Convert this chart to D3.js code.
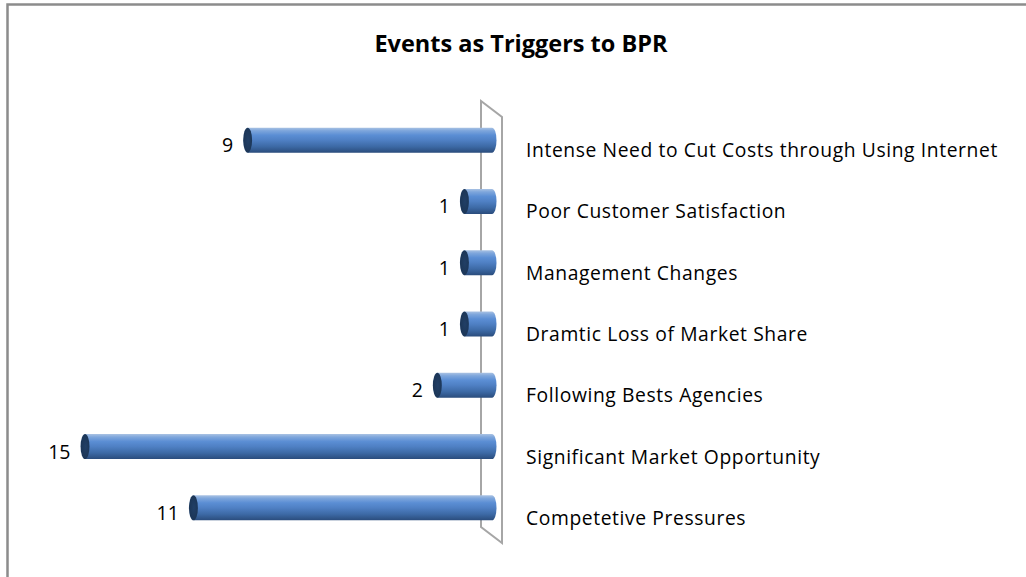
<!DOCTYPE html>
<html>
<head>
<meta charset="utf-8">
<script src="https://cdn.jsdelivr.net/npm/d3@7"></script>
<style>
  body { margin: 0; background: #fff; }
  svg { display: block; }
  .cat-label { font-family: "Open Sans", sans-serif; font-size: 19.3px; letter-spacing: 0.6px; fill: #000; }
  .val-label { font-family: "Open Sans", sans-serif; font-size: 19.5px; fill: #000; }
  .title { font-family: "Open Sans", sans-serif; font-size: 23.5px; font-weight: bold; fill: #000; }
</style>
</head>
<body>
<div id="wrapper"></div>
<script>
// data, top to bottom
const categories = [
  "Intense Need to Cut Costs through Using Internet",
  "Poor Customer Satisfaction",
  "Management Changes",
  "Dramtic Loss of Market Share",
  "Following Bests Agencies",
  "Significant Market Opportunity",
  "Competetive Pressures"
]
const counts = [9, 1, 1, 1, 2, 15, 11]
const chartTitle = "Events as Triggers to BPR"

function drawChart() {
  const width = 1026
  const height = 577

  const dimensions = {
    zeroX: 487,
    top: 109.5,
    bottom: 538.5,
    barHeight: 25,
    capRx: 4.5,
    depthX: 21,
    depthY: 16,
  }

  const svg = d3.select("#wrapper")
    .append("svg")
      .attr("width", width)
      .attr("height", height)

  // outer frame (only top and left show in the picture)
  svg.append("rect")
    .attr("x", 7.5)
    .attr("y", 4.5)
    .attr("width", width + 20)
    .attr("height", height + 20)
    .attr("fill", "none")
    .attr("stroke", "#8c8c8c")
    .attr("stroke-width", 2.5)

  const xScale = d3.scaleLinear()
    .domain([0, 16])
    .range([dimensions.zeroX, dimensions.zeroX - 16 * 27.1])

  const yScale = d3.scalePoint()
    .domain(categories)
    .range([dimensions.top, dimensions.bottom])
    .padding(0.5)

  // gradients
  const defs = svg.append("defs")
  const grad = defs.append("linearGradient")
    .attr("id", "barGrad")
    .attr("x1", 0).attr("y1", 0).attr("x2", 0).attr("y2", 1)
  const stops = [
    [0, "#a9c2e3"],
    [0.12, "#7ea6dc"],
    [0.3, "#5b8ed4"],
    [0.5, "#4f80c4"],
    [0.75, "#3d6aa6"],
    [1, "#2a4c7c"],
  ]
  stops.forEach(s => grad.append("stop").attr("offset", s[0]).attr("stop-color", s[1]))

  const capGrad = defs.append("radialGradient")
    .attr("id", "capGrad")
    .attr("cx", 0.55).attr("cy", 0.5).attr("r", 0.6)
  capGrad.append("stop").attr("offset", 0).attr("stop-color", "#213f66")
  capGrad.append("stop").attr("offset", 0.8).attr("stop-color", "#1c3657")
  capGrad.append("stop").attr("offset", 1).attr("stop-color", "#4a6f9e")

  // the 3D wall behind the bars
  const wallLeft = dimensions.zeroX - 6
  const wallTop = 101
  const wallBottom = 527
  const wallPts = [
    [wallLeft, wallBottom],
    [wallLeft, wallTop],
    [wallLeft + dimensions.depthX, wallTop + dimensions.depthY],
    [wallLeft + dimensions.depthX, wallBottom + dimensions.depthY],
  ]
  svg.append("polygon")
    .attr("points", wallPts.map(p => p.join(",")).join(" "))
    .attr("fill", "none")
    .attr("stroke", "#a6a6a6")
    .attr("stroke-width", 2)

  // bars as cylinders
  const bars = svg.append("g")
    .selectAll("g")
    .data(counts)
    .join("g")
      .attr("transform", (d, i) => `translate(0, ${yScale(categories[i])})`)

  const rightX = dimensions.zeroX + 5
  const h = dimensions.barHeight
  const rx = dimensions.capRx

  bars.append("path")
    .attr("d", d => {
      const lx = xScale(d) + rx
      return `M${lx},${-h / 2} L${rightX},${-h / 2}
        A${rx},${h / 2} 0 0 1 ${rightX},${h / 2}
        L${lx},${h / 2} Z`
    })
    .attr("fill", "url(#barGrad)")

  bars.append("ellipse")
    .attr("cx", d => xScale(d) + rx)
    .attr("cy", 0)
    .attr("rx", rx)
    .attr("ry", h / 2)
    .attr("fill", "url(#capGrad)")

  // value labels
  bars.append("text")
    .attr("class", "val-label")
    .attr("x", d => xScale(d) - 10)
    .attr("y", 4.5)
    .attr("dominant-baseline", "central")
    .attr("text-anchor", "end")
    .text(d => d)

  // category labels
  svg.append("g")
    .selectAll("text")
    .data(categories)
    .join("text")
      .attr("class", "cat-label")
      .attr("x", 526)
      .attr("y", d => yScale(d) + 9.5)
      .attr("dominant-baseline", "central")
      .text(d => d)

  svg.append("text")
    .attr("class", "title")
    .attr("x", 521)
    .attr("y", 43)
    .attr("text-anchor", "middle")
    .attr("dominant-baseline", "central")
    .text(chartTitle)
}
drawChart()
</script>
</body>
</html>
